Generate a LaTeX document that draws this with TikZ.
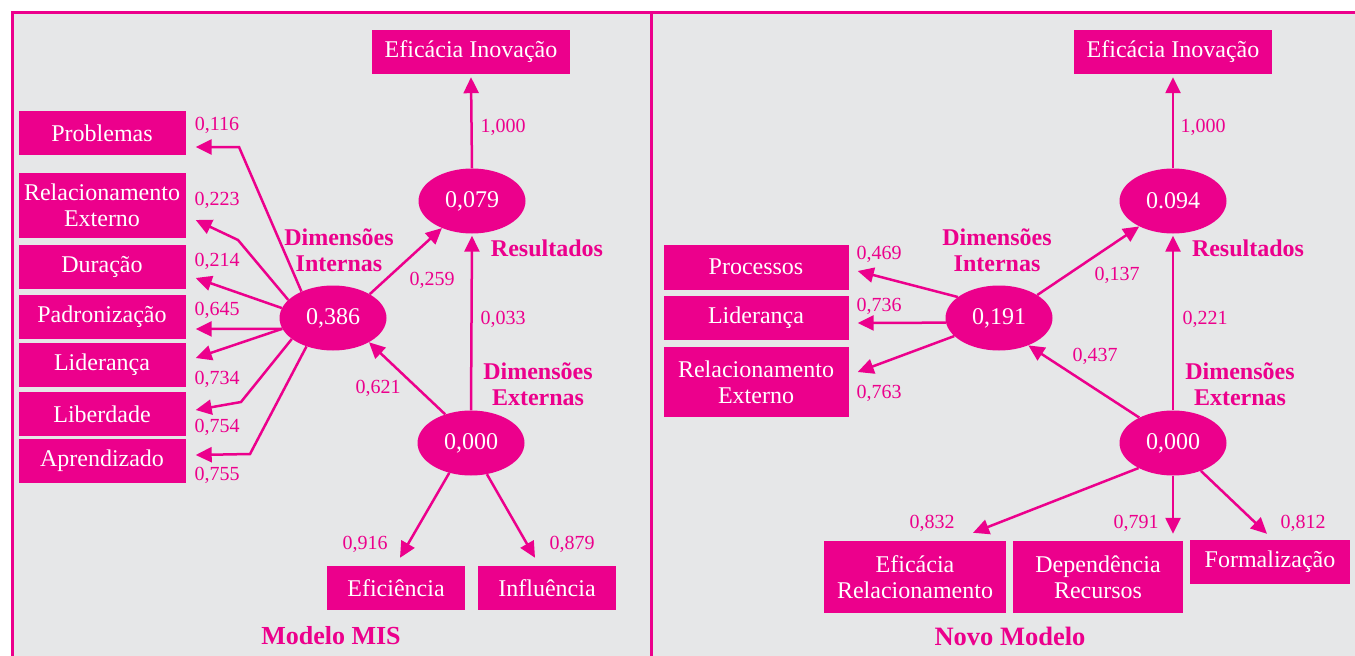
\documentclass[tikz,border=0pt]{standalone}
\usepackage{fontspec}
\setmainfont{Liberation Serif}
\usetikzlibrary{arrows.meta,shapes.geometric}
\definecolor{mag}{HTML}{EC008C}
\definecolor{bg}{HTML}{E6E7E8}

\begin{document}
\begin{tikzpicture} [x = 1pt, y = -1pt,
		box/.style = {fill=mag, text=white, inner sep=0pt, align=center, font=\fontsize{24}{26}\selectfont},
		lat/.style = {ellipse, fill=mag, text=white, minimum width=107pt, minimum height=65pt, inner sep=0pt, font=\fontsize{24}{26}\selectfont},
		arr/.style = {draw=mag, line width=2.5pt, -{Triangle[length=16pt, width=15pt]}},
		val/.style = {text=mag, font=\fontsize{20}{22}\selectfont},
		dim/.style = {text=mag, align=center, font=\fontsize{24}{26}\selectfont\bfseries}]

		    \useasboundingbox (0,0) rectangle (1355,656);
		    \fill [white] (0,0) rectangle (1355,656);
		    \fill [bg] (12,12) rectangle (1355,656);
		    \draw [mag, line width = 3pt] (12,656) -- (12,12) -- (1355,12);
		    \draw [mag, line width = 3pt] (651,12) -- (651,656);

		    % Modelo MIS
		    \node[box, minimum width=198pt, minimum height=44pt] (ino) at (471,52) {Eficácia Inovação};
		    \node[lat] (res) at (472,201) {0,079};
		    \node[lat] (mi) at (333,318) {0,386};
		    \node[lat] (ext) at (471,443) {0,000};

		    \node[box, minimum width=167pt, minimum height=44pt] (prob) at (102,133) {Problemas};
		    \node[box, minimum width=167pt, minimum height=65pt] (rel) at (102,205) {Relacionamento\\Externo};
		    \node[box, minimum width=167pt, minimum height=44pt] (dur) at (102,267) {Duração};
		    \node[box, minimum width=167pt, minimum height=44pt] (pad) at (102,317) {Padronização};
		    \node[box, minimum width=167pt, minimum height=44pt] (lid) at (102,365) {Liderança};
		    \node[box, minimum width=167pt, minimum height=44pt] (lib) at (102,414) {Liberdade};
		    \node[box, minimum width=167pt, minimum height=44pt] (apr) at (102,461) {Aprendizado};
		    \node[box, minimum width=138pt, minimum height=44pt] (efi) at (396,588) {Eficiência};
		    \node[box, minimum width=138pt, minimum height=44pt] (inf) at (547,588) {Influência};

		    \coordinate (kprob) at (239,147);
		    \coordinate (krel) at (238,240);
		    \coordinate (klib) at (241,402);
		    \coordinate (kapr) at (250,454);

		    \draw[arr] (mi.140) -- (kprob) -- ([xshift=10pt, yshift=-14pt]prob.east);
		    \draw[arr] (mi.158) -- (krel) -- ([xshift=10pt, yshift=-15pt]rel.east);
		    \draw[arr] (mi.169) -- ([xshift=10pt, yshift=-11pt]dur.east);
		    \draw[arr] (mi.192) -- ([xshift=10pt, yshift=-12pt]pad.east);
		    \draw[arr] (mi.192) -- ([xshift=10pt, yshift=7pt]lid.east);
		    \draw[arr] (mi.207) -- (klib) -- ([xshift=10pt, yshift=4pt]lib.east);
		    \draw[arr] (mi.227) -- (kapr) -- ([xshift=10pt, yshift=6pt]apr.east);

		    \draw[arr] (res.north) -- ([yshift=-3pt]ino.south);
		    \draw[arr, shorten >=2pt] (ext.north) -- (res.south);
		    \draw[arr] (mi.33) -- (res.222);
		    \draw[arr] (ext.132) -- (mi.326);
		    \draw[arr] (ext.234) -- ([xshift=4pt, yshift=8pt]efi.north);
		    \draw[arr] (ext.297) -- ([xshift=-12pt, yshift=8pt]inf.north);

		    \node[val] (v116) at (217,125) {0,116};
		    \node[val] (v223) at (217,200) {0,223};
		    \node[val] (v214) at (217,261) {0,214};
		    \node[val] (v645) at (217,310) {0,645};
		    \node[val] (v734) at (217,379) {0,734};
		    \node[val] (v754) at (217,427) {0,754};
		    \node[val] (v755) at (217,475) {0,755};
		    \node[val] (v259) at (432,280) {0,259};
		    \node[val] (v1000) at (503,127) {1,000};
		    \node[val] (v033) at (503,319) {0,033};
		    \node[val] (v621) at (378,388) {0,621};
		    \node[val] (v916) at (365,544) {0,916};
		    \node[val] (v879) at (572,544) {0,879};

		    \node[dim] (dimi) at (339,250) {Dimensões\\Internas};
		    \node[dim] (resl) at (547,248) {Resultados};
		    \node[dim] (dime) at (538,384) {Dimensões\\Externas};
		    \node[dim, font=\fontsize{26}{28}\selectfont\bfseries] (tmis) at (331,636) {Modelo MIS};

		    % Novo Modelo
		    \node[box, minimum width=198pt, minimum height=44pt] (ino2) at (1173,52) {Eficácia Inovação};
		    \node[lat] (res2) at (1173,201) {0.094};
		    \node[lat] (ni) at (999,318) {0,191};
		    \node[lat] (ext2) at (1173,443) {0,000};

		    \node[box, minimum width=185pt, minimum height=45pt] (proc) at (756,267) {Processos};
		    \node[box, minimum width=185pt, minimum height=44pt] (lid2) at (756,318) {Liderança};
		    \node[box, minimum width=185pt, minimum height=70pt] (rel2) at (756,382) {Relacionamento\\Externo};
		    \node[box, minimum width=182pt, minimum height=72pt] (efr) at (915,577) {Eficácia\\Relacionamento};
		    \node[box, minimum width=170pt, minimum height=72pt] (dep) at (1098,577) {Dependência\\Recursos};
		    \node[box, minimum width=160pt, minimum height=44pt] (form) at (1270,562) {Formalização};

		    \draw[arr] (res2.north) -- ([yshift=-3pt]ino2.south);
		    \draw[arr, shorten >=2pt] (ext2.north) -- (res2.south);
		    \draw[arr] (ni.31) -- (res2.217);
		    \draw[arr] (ext2.143) -- (ni.317);
		    \draw[arr] (ni.153) -- ([xshift=9pt, yshift=-4pt]proc.east);
		    \draw[arr] (ni.185) -- ([xshift=9pt, yshift=-5pt]lid2.east);
		    \draw[arr] (ni.202) -- ([xshift=9pt, yshift=10pt]rel2.east);
		    \draw[arr] (ext2.216) -- ([xshift=58pt, yshift=8pt]efr.north);
		    \draw[arr] (ext2.south) -- ([xshift=75pt, yshift=7pt]dep.north);
		    \draw[arr] (ext2.315) -- ([xshift=-3pt, yshift=6pt]form.north);

		    \node[val] (v469) at (879,254) {0,469};
		    \node[val] (v736) at (879,306) {0,736};
		    \node[val] (v763) at (879,393) {0,763};
		    \node[val] (v137) at (1117,275) {0,137};
		    \node[val] (v1000b) at (1203,127) {1,000};
		    \node[val] (v221) at (1205,319) {0,221};
		    \node[val] (v437) at (1095,356) {0,437};
		    \node[val] (v832) at (932,523) {0,832};
		    \node[val] (v791) at (1136,523) {0,791};
		    \node[val] (v812) at (1303,523) {0,812};

		    \node[dim] (dimi2) at (997,250) {Dimensões\\Internas};
		    \node[dim] (resl2) at (1248,248) {Resultados};
		    \node[dim] (dime2) at (1240,384) {Dimensões\\Externas};
		    \node[dim, font=\fontsize{26.5}{28}\selectfont\bfseries] (tnovo) at (1010,636) {Novo Modelo};
		\end{tikzpicture}
\end{document}
